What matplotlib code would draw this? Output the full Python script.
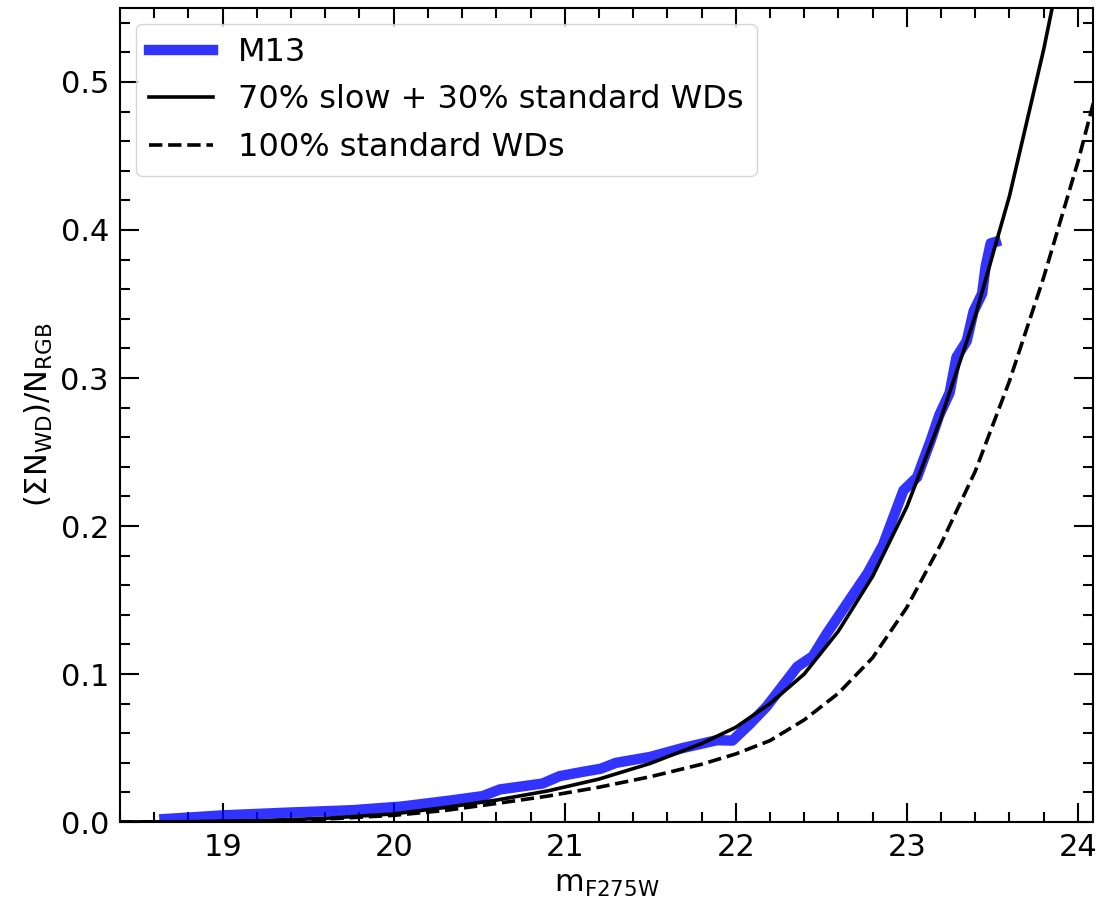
import numpy as np
import matplotlib
matplotlib.use("Agg")
import matplotlib.pyplot as plt
from matplotlib.ticker import MultipleLocator

plt.rcParams['mathtext.default'] = 'regular'

m13_mag = [18.66, 18.80, 19.00, 19.37, 19.76, 20.05, 20.33, 20.52, 20.62, 20.87,
           20.97, 21.11, 21.21, 21.30, 21.50, 21.69, 21.89, 21.98, 22.08, 22.18,
           22.36, 22.45, 22.53, 22.67, 22.77, 22.86, 22.98, 23.06, 23.14, 23.19,
           23.25, 23.29, 23.35, 23.39, 23.44, 23.46, 23.49, 23.52]
m13_frac = [0.002, 0.003, 0.0045, 0.0063, 0.008, 0.0105, 0.0145, 0.0175, 0.022, 0.026,
            0.031, 0.034, 0.036, 0.040, 0.044, 0.050, 0.0553, 0.055, 0.066, 0.078,
            0.105, 0.112, 0.127, 0.151, 0.168, 0.187, 0.224, 0.233, 0.258, 0.275,
            0.290, 0.314, 0.325, 0.345, 0.357, 0.375, 0.391, 0.392]

# models
mod_mag = [18.4, 18.8, 19.2, 19.6, 20.0, 20.3, 20.6, 20.9, 21.2, 21.5, 21.8, 22.0,
           22.2, 22.4, 22.6, 22.8, 23.0, 23.2, 23.4, 23.6, 23.8, 24.0, 24.1]
mix_frac = [0.0, 0.0002, 0.0008, 0.0025, 0.0055, 0.0098, 0.0148, 0.021, 0.029, 0.0396,
            0.053, 0.064, 0.080, 0.100, 0.129, 0.166, 0.213, 0.273, 0.342, 0.423,
            0.522, 0.635, 0.70]
std_frac = [0.0, 0.0001, 0.0006, 0.002, 0.0045, 0.0078, 0.0125, 0.0175, 0.0235, 0.0306,
            0.039, 0.046, 0.055, 0.069, 0.087, 0.111, 0.145, 0.188, 0.237, 0.298,
            0.368, 0.446, 0.490]

fig = plt.figure(figsize=(11.01, 9.08), dpi=100)
ax = fig.add_axes([0.109, 0.0947, 0.884, 0.8965])

ax.plot(m13_mag, m13_frac, color='blue', alpha=0.8, lw=7.5, label='M13')
ax.plot(mod_mag, mix_frac, color='k', lw=2.6, label='70% slow + 30% standard WDs')
ax.plot(mod_mag, std_frac, color='k', lw=2.6, ls='--', label='100% standard WDs')

ax.set_xlim(18.4, 24.09)
ax.set_ylim(0, 0.55)
ax.xaxis.set_major_locator(MultipleLocator(1))
ax.xaxis.set_minor_locator(MultipleLocator(0.2))
ax.yaxis.set_major_locator(MultipleLocator(0.1))
ax.yaxis.set_minor_locator(MultipleLocator(0.02))
ax.tick_params(which='both', direction='in', top=True, right=True, labelsize=22, width=1.5)
ax.tick_params(which='major', length=14, pad=8)
ax.tick_params(which='minor', length=7)
for s in ax.spines.values():
    s.set_linewidth(1.5)

ax.set_xlabel('m$_{F275W}$', fontsize=22, labelpad=6)
ax.set_ylabel(r'($\Sigma$N$_{WD}$)/N$_{RGB}$', fontsize=22)

ax.legend(loc='upper left', fontsize=23, handlelength=2.0, labelspacing=0.52,
          borderaxespad=0.5)

fig.savefig('out.png', dpi=100)
